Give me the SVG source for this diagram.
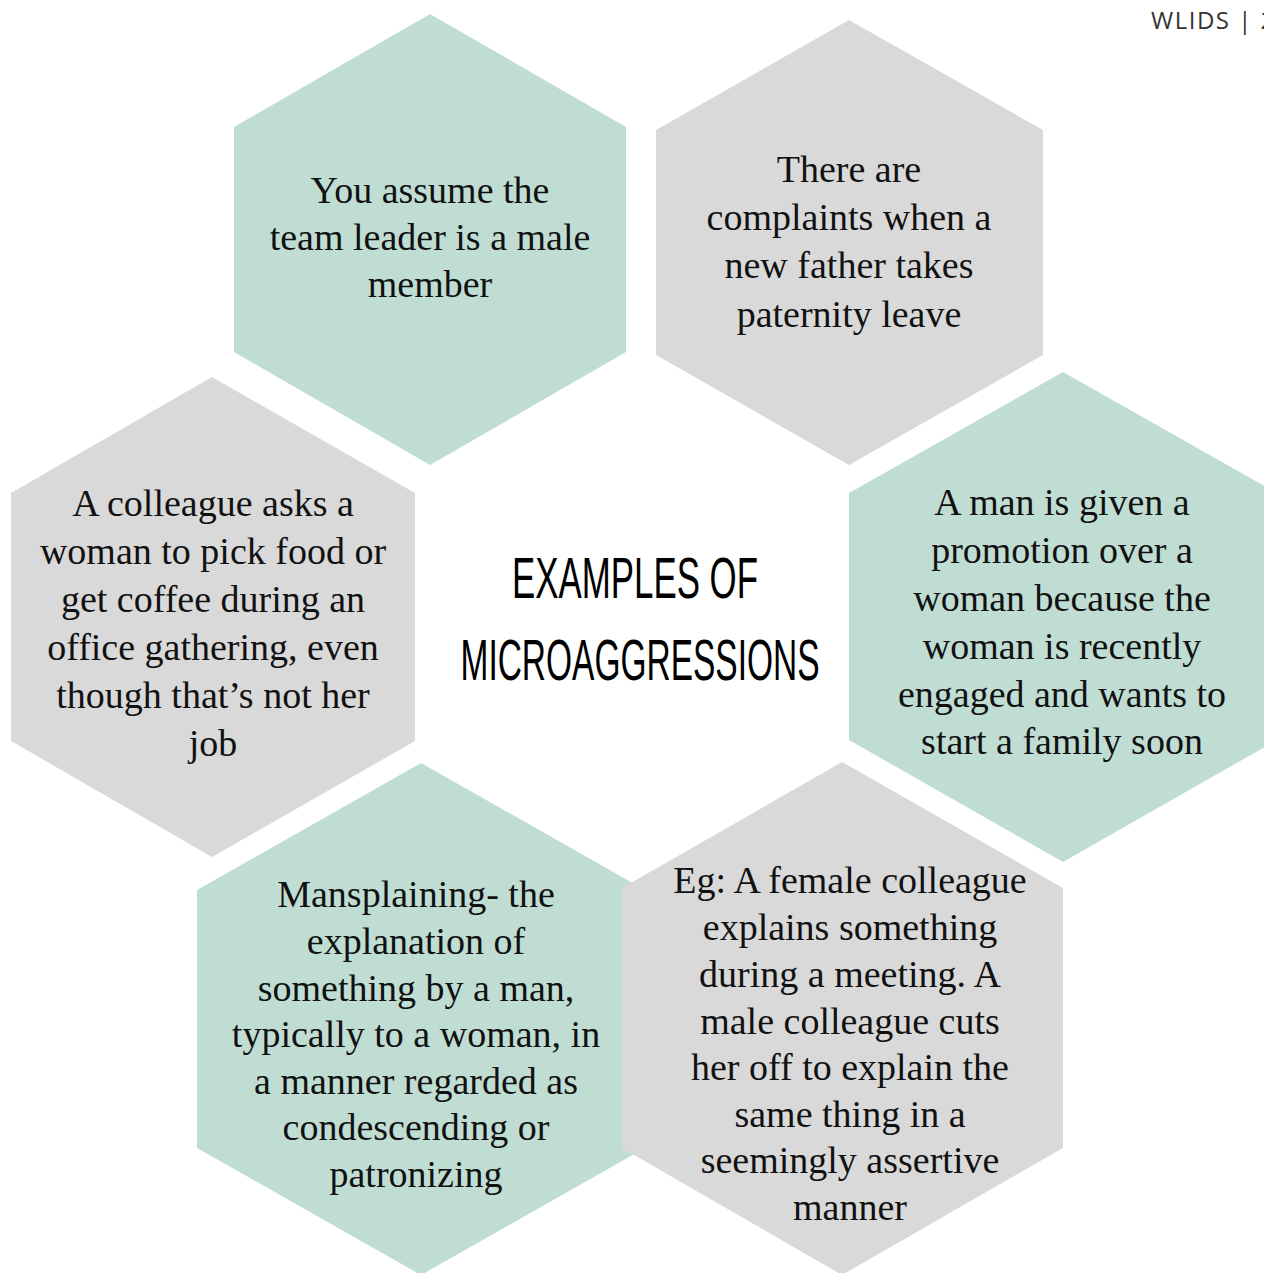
<svg xmlns="http://www.w3.org/2000/svg" width="1264" height="1273" viewBox="0 0 1264 1273">
<style>
.teal{fill:#c0ddd4}
.gray{fill:#d9d9d9}
.t{font-family:"Liberation Serif","Times New Roman",serif;font-size:38px;fill:#111;text-anchor:middle}
.title{font-family:"Liberation Sans",Arial,sans-serif;font-size:58px;fill:#000;text-anchor:middle}
.hdr{font-family:"Open Sans","Liberation Sans",sans-serif;font-size:24px;fill:#333;letter-spacing:1.5px}
</style>
<rect width="1264" height="1273" fill="#fff"/>
<text class="hdr" x="1151" y="29">WLIDS | 2</text>
<g id="connectors"/>
<g id="hex1">
<polygon class="teal" points="430,14 626,127 626,352 430,465 234,352 234,127"/>
<text class="t" x="430"><tspan x="430" y="203">You assume the</tspan><tspan x="430" y="250">team leader is a male</tspan><tspan x="430" y="297">member</tspan></text>
</g>
<g id="hex2">
<polygon class="gray" points="849,20 1043,130 1043,355 849,465 656,355 656,130"/>
<text class="t" x="849"><tspan x="849" y="182">There are</tspan><tspan x="849" y="230">complaints when a</tspan><tspan x="849" y="278">new father takes</tspan><tspan x="849" y="327">paternity leave</tspan></text>
</g>
<g id="hex3">
<polygon class="gray" points="212,377 415,493 415,741 212,857 11,741 11,493"/>
<text class="t" x="213"><tspan x="213" y="516">A colleague asks a</tspan><tspan x="213" y="564">woman to pick food or</tspan><tspan x="213" y="612">get coffee during an</tspan><tspan x="213" y="660">office gathering, even</tspan><tspan x="213" y="708">though that’s not her</tspan><tspan x="213" y="756">job</tspan></text>
</g>
<g id="hex4">
<polygon class="teal" points="1063,372 1277,493 1277,740 1063,862 849,740 849,493"/>
<text class="t" x="1062"><tspan x="1062" y="515">A man is given a</tspan><tspan x="1062" y="563">promotion over a</tspan><tspan x="1062" y="611">woman because the</tspan><tspan x="1062" y="659">woman is recently</tspan><tspan x="1062" y="707">engaged and wants to</tspan><tspan x="1062" y="754">start a family soon</tspan></text>
</g>
<g id="hex5">
<polygon class="teal" points="421,763 645,890 645,1148 421,1275 197,1148 197,890"/>
<text class="t" x="416"><tspan x="416" y="907">Mansplaining- the</tspan><tspan x="416" y="954">explanation of</tspan><tspan x="416" y="1001">something by a man,</tspan><tspan x="416" y="1047">typically to a woman, in</tspan><tspan x="416" y="1094">a manner regarded as</tspan><tspan x="416" y="1140">condescending or</tspan><tspan x="416" y="1187">patronizing</tspan></text>
</g>
<g id="hex6">
<polygon class="gray" points="842,762 1063,888 1063,1148 842,1275 622,1148 622,888"/>
<text class="t" x="850"><tspan x="850" y="893">Eg: A female colleague</tspan><tspan x="850" y="940">explains something</tspan><tspan x="850" y="987">during a meeting. A</tspan><tspan x="850" y="1034">male colleague cuts</tspan><tspan x="850" y="1080">her off to explain the</tspan><tspan x="850" y="1127">same thing in a</tspan><tspan x="850" y="1173">seemingly assertive</tspan><tspan x="850" y="1220">manner</tspan></text>
</g>
<g id="title">
<text class="title" x="635" y="598" textLength="246" lengthAdjust="spacingAndGlyphs">EXAMPLES OF</text>
<text class="title" x="640" y="680" textLength="359" lengthAdjust="spacingAndGlyphs">MICROAGGRESSIONS</text>
</g>
</svg>
